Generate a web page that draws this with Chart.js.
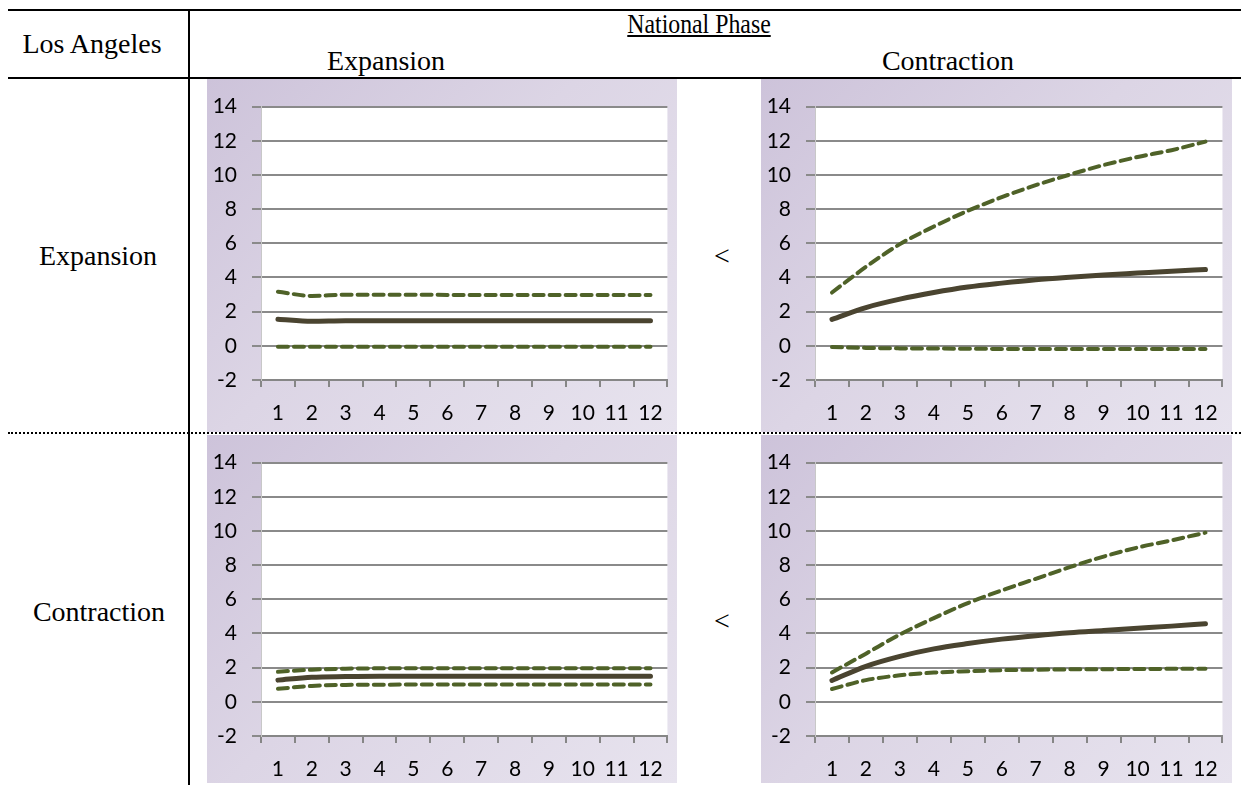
<!DOCTYPE html>
<html>
<head>
<meta charset="utf-8">
<script src="https://cdn.jsdelivr.net/npm/chart.js@4.4.1/dist/chart.umd.min.js"></script>
<style>
  body { margin: 0; background: #fff; width: 1241px; height: 785px; position: relative; overflow: hidden; }
  .hl { position: absolute; left: 8px; right: 0; height: 0; border-top: 2px solid #000; }
  .txt { position: absolute; font-family: "Liberation Serif", "Times New Roman", serif; font-size: 28px; color: #000; white-space: nowrap; transform: translate(-50%, -50%); }
  .box { position: absolute; background: linear-gradient(135deg, #cdc3da 0%, #dcd5e5 45%, #e7e3ee 100%); }
</style>
</head>
<body>
<div class="hl" style="top:9px"></div>
<div class="hl" style="top:77px"></div>
<div style="position:absolute; left:188px; top:10px; width:0; height:775px; border-left:2px solid #000"></div>
<div style="position:absolute; left:8px; right:0; top:432px; border-top:2px dotted #000"></div>

<div class="txt" style="left:92px; top:44px">Los Angeles</div>
<div class="txt" style="left:699px; top:24px"><span style="display:inline-block; transform:scaleX(0.85); text-decoration:underline">National Phase</span></div>
<div class="txt" style="left:386px; top:61px">Expansion</div>
<div class="txt" style="left:948px; top:61px">Contraction</div>
<div class="txt" style="left:98px; top:256px">Expansion</div>
<div class="txt" style="left:99px; top:612px">Contraction</div>
<div class="txt" style="left:722px; top:256px">&lt;</div>
<div class="txt" style="left:722px; top:621px">&lt;</div>

<div class="box" style="left:207px; top:79px; width:470px; height:353px"><canvas id="c1"></canvas></div>
<div class="box" style="left:761px; top:79px; width:471px; height:353px"><canvas id="c2"></canvas></div>
<div class="box" style="left:207px; top:435px; width:470px; height:348px"><canvas id="c3"></canvas></div>
<div class="box" style="left:761px; top:435px; width:471px; height:348px"><canvas id="c4"></canvas></div>

<script>
const perioden = ['1', '2', '3', '4', '5', '6', '7', '8', '9', '10', '11', '12'];

// LA Expansion / National Expansion
const expExpMitte = [1.56, 1.44, 1.47, 1.47, 1.47, 1.47, 1.47, 1.47, 1.47, 1.47, 1.47, 1.47];
const expExpOben  = [3.17, 2.92, 2.99, 2.99, 2.99, 2.98, 2.98, 2.98, 2.98, 2.98, 2.98, 2.98];
const expExpUnten = [-0.06, -0.06, -0.06, -0.06, -0.06, -0.06, -0.06, -0.06, -0.06, -0.06, -0.06, -0.06];

// LA Expansion / National Contraction
const expKonMitte = [1.55, 2.24, 2.73, 3.12, 3.44, 3.67, 3.87, 4.02, 4.15, 4.26, 4.37, 4.46];
const expKonOben  = [3.12, 4.62, 5.95, 6.98, 7.9, 8.7, 9.4, 10.02, 10.58, 11.05, 11.45, 11.95];
const expKonUnten = [-0.07, -0.12, -0.15, -0.16, -0.17, -0.18, -0.18, -0.19, -0.19, -0.19, -0.19, -0.19];

// LA Contraction / National Expansion
const konExpMitte = [1.27, 1.44, 1.48, 1.5, 1.5, 1.5, 1.5, 1.5, 1.5, 1.5, 1.5, 1.5];
const konExpOben  = [1.76, 1.88, 1.94, 1.96, 1.97, 1.97, 1.97, 1.97, 1.97, 1.97, 1.97, 1.97];
const konExpUnten = [0.76, 0.93, 0.99, 1.0, 1.01, 1.01, 1.01, 1.01, 1.01, 1.01, 1.01, 1.01];

// LA Contraction / National Contraction
const konKonMitte = [1.25, 2.08, 2.66, 3.1, 3.41, 3.67, 3.87, 4.04, 4.17, 4.3, 4.43, 4.57];
const konKonOben  = [1.72, 2.82, 3.94, 4.9, 5.78, 6.52, 7.2, 7.88, 8.5, 9.03, 9.45, 9.9];
const konKonUnten = [0.75, 1.27, 1.55, 1.71, 1.79, 1.85, 1.88, 1.9, 1.91, 1.92, 1.93, 1.93];

const yMin = -2, yMax = 14, yStep = 2;

const weisseFlaeche = {
  id: 'weisseFlaeche',
  beforeDraw(chart) {
    const { ctx, chartArea: a } = chart;
    ctx.save();
    ctx.fillStyle = '#ffffff';
    ctx.fillRect(a.left, a.top, a.right - a.left, a.bottom - a.top);
    ctx.restore();
  }
};

function zeichneDiagramm(id, mitte, oben, unten, xHoehe) {
  const linie = (werte, farbe, breite, strich) => ({
    data: werte,
    borderColor: farbe,
    borderWidth: breite,
    borderDash: strich,
    borderCapStyle: 'round',
    pointRadius: 0,
    fill: false,
    cubicInterpolationMode: 'monotone'
  });
  return new Chart(document.getElementById(id).getContext('2d'), {
    type: 'line',
    data: {
      labels: perioden,
      datasets: [
        linie(oben, '#4f6228', 4, [10, 6]),
        linie(unten, '#4f6228', 4, [10, 6]),
        linie(mitte, '#4a4430', 5, [])
      ]
    },
    options: {
      responsive: true,
      maintainAspectRatio: false,
      animation: false,
      layout: { padding: { top: 16, right: 8, left: 0, bottom: 0 } },
      plugins: { legend: { display: false }, tooltip: { enabled: false } },
      scales: {
        x: {
          offset: true,
          grid: { offset: true, drawOnChartArea: false, tickLength: 7, color: '#868686', lineWidth: 2 },
          border: { color: '#868686', width: 2 },
          ticks: { color: '#000', padding: 14, maxRotation: 0, autoSkip: false, font: { family: 'Lato', size: 21 } },
          afterFit: s => { s.height = xHoehe; }
        },
        y: {
          min: yMin,
          max: yMax,
          ticks: { stepSize: yStep, color: '#000', padding: 15, font: { family: 'Lato', size: 21 } },
          grid: { color: '#8a8a8a', lineWidth: 2, tickLength: 9 },
          border: { color: '#c8c8c8', width: 1 },
          afterFit: s => { s.width = 54; }
        }
      }
    },
    plugins: [weisseFlaeche]
  });
}

zeichneDiagramm('c1', expExpMitte, expExpOben, expExpUnten, 52);
zeichneDiagramm('c2', expKonMitte, expKonOben, expKonUnten, 52);
zeichneDiagramm('c3', konExpMitte, konExpOben, konExpUnten, 47);
zeichneDiagramm('c4', konKonMitte, konKonOben, konKonUnten, 47);
</script>
</body>
</html>
